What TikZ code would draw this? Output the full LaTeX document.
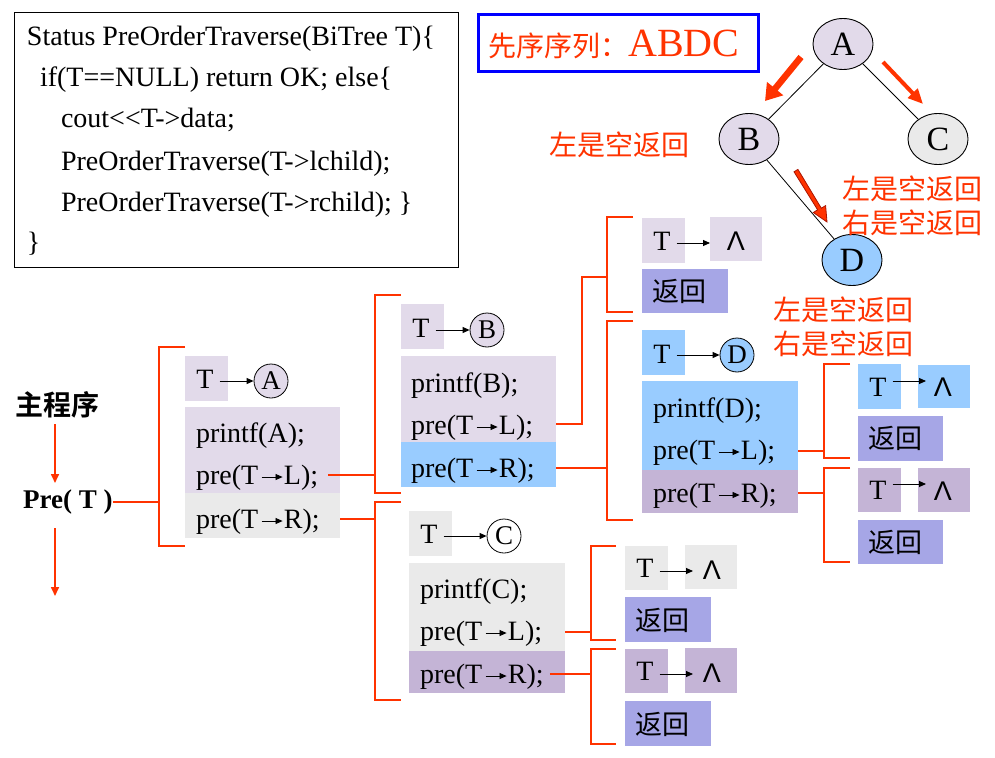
\documentclass[tikz,border=0pt]{standalone}
\usepackage{fontspec}
\setmainfont{Liberation Serif}
\newfontfamily\cjk{Noto Sans CJK SC}[BoldFont={Noto Sans CJK SC Bold}]
\newfontfamily\lsans{Liberation Sans}
\usetikzlibrary{shapes.geometric,arrows.meta,calc}
\definecolor{lav}{RGB}{226,218,234}
\definecolor{gry}{RGB}{234,234,234}
\definecolor{lblue}{RGB}{153,204,255}
\definecolor{mlav}{RGB}{196,180,214}
\definecolor{peri}{RGB}{166,166,230}
\definecolor{rd}{RGB}{255,51,0}
\definecolor{drd}{RGB}{170,20,0}
\definecolor{bl}{RGB}{0,0,255}
\tikzset{
  bxs/.style={inner sep=0,outer sep=0,anchor=north west},
  txt/.style={inner sep=0,outer sep=0,anchor=base west,font=\fontsize{28}{28}\selectfont},
  codet/.style={inner sep=0,outer sep=0,anchor=base west,font=\fontsize{28}{28}\selectfont},
  cn/.style={inner sep=0,outer sep=0,anchor=west,font=\cjk\fontsize{27}{27}\selectfont},
  rl/.style={draw=rd,line width=2pt},
  sar/.style={line width=0.9pt,-{Triangle[length=7pt,width=6pt]}},
  cir/.style={circle,draw,line width=0.8pt,minimum size=34pt,inner sep=0,font=\fontsize{27}{27}\selectfont},
  tn/.style={ellipse,draw,line width=0.9pt,minimum width=60pt,minimum height=51pt,inner sep=0,font=\fontsize{34}{34}\selectfont},
  wd/.style={inner sep=0,font=\lsans\fontsize{27}{27}\selectfont},
  lbl/.style={inner sep=0,text=rd,font=\cjk\fontsize{28}{34}\selectfont,align=left,anchor=west},
  mar/.style={draw=rd,line width=1.6pt,-{Triangle[length=9pt,width=8pt]}},
}
\newcommand\mybox[6]{\node[bxs,fill=#6,minimum width={(#4-#2)*1pt},minimum height={(#5-#3)*1pt}] (#1) at (#2,#3) {};}
\newcommand\brk[5]{\coordinate (#1) at (#2,#3); \draw[rl] (#5,#3) -- (#1) -- (#2,#4) -- (#5,#4);}
\newcommand\ra{\kern3pt\tikz[baseline=0pt]\draw[line width=0.8pt,-{Triangle[length=7pt,width=6pt]}](0pt,7pt)--(21pt,7pt);\kern1pt}
% T-arrow: T node, start raise (pt above baseline), target node, end x offset
\newcommand\tarr[4]{\path ([shift={(6,-#2)}]#1.base east) coordinate (#1s); \draw[sar] (#1s) -- ($(#1s -| #3.west)+(#4,0)$);}
\begin{document}
\begin{tikzpicture}[x=1pt,y=-1pt]
\useasboundingbox (0,0) rectangle (995,757);

% ---------- code box ----------
\node[bxs,draw,line width=1pt,minimum width=444pt,minimum height=254pt] (code) at (14,13) {};
\node[codet] (c1) at (27,46) {Status PreOrderTraverse(BiTree T)\{};
\node[codet] (c2) at (40,87) {if(T==NULL) return OK; else\{};
\node[codet] (c3) at (61,128) {cout<{}<T-{}>data;};
\node[codet] (c4) at (61,170) {PreOrderTraverse(T-{}>lchild);};
\node[codet] (c5) at (61,211) {PreOrderTraverse(T-{}>rchild); \}};
\node[codet] (c6) at (27,251) {\}};

% ---------- title ----------
\node[bxs,draw=bl,line width=3pt,minimum width=280pt,minimum height=57pt] (titlebox) at (478.5,14.5) {};
\node[inner sep=0,anchor=base west,text=rd] (title) at (488,57) {{\cjk\fontsize{28}{28}\selectfont 先序序列：}{\fontsize{40}{40}\selectfont ABDC}};

% ---------- tree ----------
\node[tn,fill=lav] (tA) at (843,44) {A};
\node[tn,fill=lav] (tB) at (749,139) {B};
\node[tn,fill=gry] (tC) at (938,139) {C};
\node[tn,fill=lblue] (tD) at (852,260) {D};
\draw[line width=0.8pt] (tA) -- (tB);
\draw[line width=0.8pt] (tA) -- (tC);
\draw[line width=0.8pt] (tB) -- (tD);
\coordinate (r1s) at (801,57); \coordinate (r1e) at (765,101);
\draw[draw=rd,line width=6.5pt,-{Triangle[length=16pt,width=20pt]}] (r1s) -- (r1e);
\coordinate (r2s) at (883,62); \coordinate (r2e) at (923,104);
\draw[draw=rd,line width=4pt,-{Triangle[length=15pt,width=13pt]}] (r2s) -- (r2e);
\draw[fill=rd,draw=drd,line width=0.8pt]
  (794.0,171.8) -- (817.6,209.8) -- (813.3,212.5) -- (827,222) -- (825.6,205.6) -- (821.3,208.2) -- (797.9,169.4) -- cycle;
\node[lbl] (lb1) at (549,145) {左是空返回};
\node[lbl] (lb2) at (842,206) {左是空返回\\右是空返回};
\node[lbl] (lb3) at (773,327) {左是空返回\\右是空返回};

% ---------- main program ----------
\node[inner sep=0,font=\cjk\bfseries\fontsize{28}{28}\selectfont] (main) at (57,405) {主程序};
\node[inner sep=0,anchor=base west,font=\bfseries\fontsize{27}{27}\selectfont] (pre) at (23,508) {Pre( T )};
\coordinate (a1s) at (55,424); \coordinate (a1e) at (55,483);
\coordinate (a2s) at (55,528); \coordinate (a2e) at (55,596);
\draw[mar] (a1s) -- (a1e);
\draw[mar] (a2s) -- (a2e);

% ---------- brackets ----------
\brk{k1}{159}{347}{546}{185}
\brk{kB}{375}{295}{493}{401}
\brk{kC}{375}{502}{700}{401}
\brk{kL1}{607}{217}{312}{633}
\brk{kD}{607}{321}{520}{633}
\brk{kL2}{824}{364}{458}{850}
\brk{kL3}{824}{468}{562}{850}
\brk{kL4}{591}{546}{640}{616}
\brk{kL5}{591}{649}{744}{616}

% ---------- block A ----------
\mybox{AT}{185}{356}{228}{401}{lav}
\mybox{AM}{185}{407}{340}{493}{lav}
\mybox{AR}{185}{493}{340}{538}{gry}
\node[txt,anchor=base] (ATt) at (205,388) {T};
\node[cir,fill=lav] (cA) at (271,381) {A};
\tarr{ATt}{7}{cA}{0}
\node[txt] (Apf) at (196,442) {printf(A);};
\node[txt] (ApL) at (196,484) {pre(T\ra L);};
\node[txt] (ApR) at (196,528) {pre(T\ra R);};

% ---------- block B ----------
\mybox{BT}{401}{304}{444}{349}{lav}
\mybox{BM}{401}{356}{556}{442}{lav}
\mybox{BR}{401}{442}{556}{487}{lblue}
\node[txt,anchor=base] (BTt) at (421,337) {T};
\node[cir,fill=lav] (cB) at (487,330) {B};
\tarr{BTt}{7}{cB}{0}
\node[txt] (Bpf) at (411,392) {printf(B);};
\node[txt] (BpL) at (411,434) {pre(T\ra L);};
\node[txt] (BpR) at (411,477) {pre(T\ra R);};

% ---------- block D ----------
\mybox{DT}{642}{330}{685}{375}{lblue}
\mybox{DM}{642}{381}{798}{470}{lblue}
\mybox{DR}{642}{470}{798}{513}{mlav}
\node[txt,anchor=base] (DTt) at (662,363) {T};
\node[cir,fill=lblue] (cD) at (737,355) {D};
\tarr{DTt}{8}{cD}{0}
\node[txt] (Dpf) at (653,417) {printf(D);};
\node[txt] (DpL) at (653,459) {pre(T\ra L);};
\node[txt] (DpR) at (653,502) {pre(T\ra R);};

% ---------- block C ----------
\mybox{CT}{409}{511}{452}{556}{gry}
\mybox{CM}{409}{563}{565}{651}{gry}
\mybox{CR}{409}{651}{565}{693}{mlav}
\node[txt,anchor=base] (CTt) at (429,543) {T};
\node[cir,fill=white] (cC) at (504,536) {C};
\tarr{CTt}{7}{cC}{0}
\node[txt] (Cpf) at (420,598) {printf(C);};
\node[txt] (CpL) at (420,640) {pre(T\ra L);};
\node[txt] (CpR) at (420,683) {pre(T\ra R);};

% ---------- leaves ----------
% L1 (B left)
\mybox{L1T}{642}{218}{685}{263}{lav}
\mybox{L1W}{710}{217}{762}{261}{lav}
\mybox{L1R}{642}{269}{728}{313}{peri}
\node[txt,anchor=base] (L1Tt) at (662,250) {T};
\node[wd] (L1Wt) at (736,241) {Λ};
\tarr{L1Tt}{7}{L1W}{0}
\node[cn] (L1Rt) at (652,291) {返回};
% L2 (D left)
\mybox{L2T}{858}{364}{901}{409}{lblue}
\mybox{L2W}{918}{365}{970}{408}{lblue}
\mybox{L2R}{858}{416}{943}{461}{peri}
\node[txt,anchor=base] (L2Tt) at (878,396) {T};
\node[wd] (L2Wt) at (943,387) {Λ};
\tarr{L2Tt}{15}{L2W}{8}
\node[cn] (L2Rt) at (868,438) {返回};
% L3 (D right)
\mybox{L3T}{858}{468}{901}{512}{mlav}
\mybox{L3W}{918}{468}{970}{512}{mlav}
\mybox{L3R}{858}{520}{943}{564}{peri}
\node[txt,anchor=base] (L3Tt) at (878,499) {T};
\node[wd] (L3Wt) at (943,491) {Λ};
\tarr{L3Tt}{15}{L3W}{8}
\node[cn] (L3Rt) at (868,542) {返回};
% L4 (C left)
\mybox{L4T}{625}{546}{668}{590}{gry}
\mybox{L4W}{685}{545}{737}{589}{gry}
\mybox{L4R}{625}{597}{711}{642}{peri}
\node[txt,anchor=base] (L4Tt) at (645,577) {T};
\node[wd] (L4Wt) at (712,570) {Λ};
\tarr{L4Tt}{6}{L4W}{8}
\node[cn] (L4Rt) at (635,620) {返回};
% L5 (C right)
\mybox{L5T}{625}{649}{668}{693}{mlav}
\mybox{L5W}{685}{648}{737}{693}{mlav}
\mybox{L5R}{625}{701}{711}{746}{peri}
\node[txt,anchor=base] (L5Tt) at (645,680) {T};
\node[wd] (L5Wt) at (712,673) {Λ};
\tarr{L5Tt}{6}{L5W}{8}
\node[cn] (L5Rt) at (635,724) {返回};

% ---------- connectors ----------
\draw[rl] (pre.east) -- (pre.east -| k1);
\coordinate (ApLc) at ([yshift=9pt]ApL.base west);
\coordinate (ApRc) at ([yshift=9pt]ApR.base west);
\draw[rl] ([xshift=10pt]ApL.east |- ApLc) -- (ApLc -| kB);
\draw[rl] (ApRc -| AM.east) -- (ApRc -| kC);
\coordinate (BpLc) at ([yshift=10pt]BpL.base west);
\coordinate (BpRc) at ([yshift=9pt]BpR.base west);
\coordinate (jB) at (582,277);
\draw[rl] (BpLc -| BM.east) -| (jB) -- (jB -| kL1);
\draw[rl] (BpRc -| BM.east) -- (BpRc -| kD);
\coordinate (DpLc) at ([yshift=8pt]DpL.base west);
\coordinate (DpRc) at ([yshift=9pt]DpR.base west);
\draw[rl] (DpLc -| DM.east) -- (DpLc -| kL2);
\draw[rl] (DpRc -| DM.east) -- (DpRc -| kL3);
\coordinate (CpLc) at ([yshift=8pt]CpL.base west);
\coordinate (CpRc) at ([yshift=9pt]CpR.base west);
\draw[rl] (CpLc -| CM.east) -- (CpLc -| kL4);
\draw[rl] ([xshift=6pt]CpR.east |- CpRc) -- (CpRc -| kL5);
\end{tikzpicture}
\end{document}
